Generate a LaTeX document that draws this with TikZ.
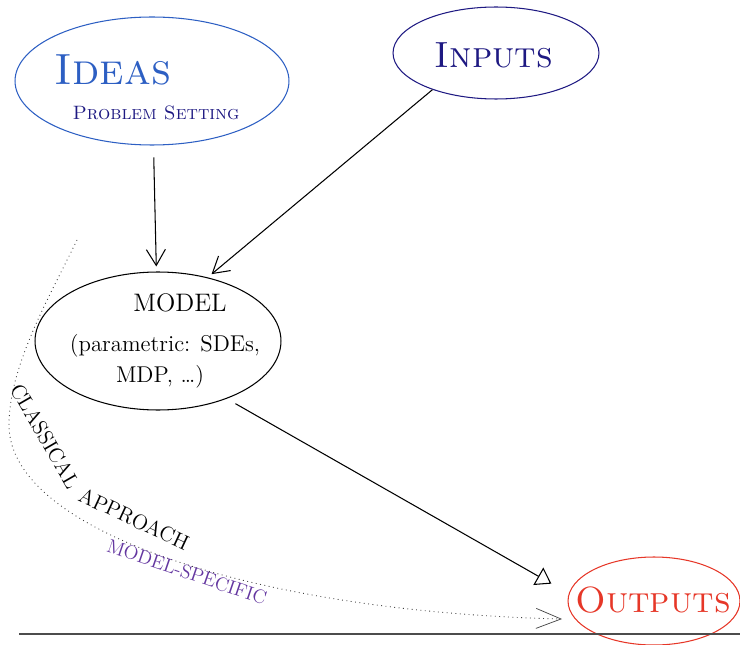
\documentclass[tikz,border=0pt]{standalone}
\usetikzlibrary{arrows.meta,shapes.geometric}
\definecolor{ideablue}{RGB}{45,95,195}
\definecolor{inknavy}{RGB}{30,25,130}
\definecolor{outred}{RGB}{230,55,40}
\definecolor{specpurple}{RGB}{100,55,160}
\tikzset{
  oval/.style={ellipse,draw,line width=0.6pt,inner sep=0pt},
  link/.style={line width=0.6pt,-{Straight Barb[length=3.2mm,width=3.8mm]}},
}

\begin{document}
\begin{tikzpicture}[x=0.02cm,y=-0.02cm]
        \useasboundingbox (0,0) rectangle (740,645);
        % bubbles
        \node[oval,draw=ideablue,minimum width=5.48cm,minimum height=2.56cm] (ideas) at (152,81) {};
        \node[oval,draw=inknavy,minimum width=4.12cm,minimum height=1.84cm] (inputs) at (496,53) {};
        \node[oval,minimum width=4.92cm,minimum height=2.76cm] (model) at (158,341) {};
        \node[oval,draw=outred,minimum width=3.44cm,minimum height=1.76cm] (outputs) at (654,601) {};
        \node[text=ideablue,font=\Huge] (ideastxt) at (113,70) {\textsc{Ideas}};
        \node[text=inknavy,font=\fontsize{11}{13}\selectfont] (setting) at (156,113) {\textsc{Problem Setting}};
        \node[text=inknavy,font=\huge] (inputstxt) at (494,55) {\textsc{Inputs}};
        \node[font=\Large] (modeltxt) at (180,303) {MODEL};
        \node[font=\fontsize{13}{15}\selectfont] (modelsub) at (165,346) {(parametric: SDEs,};
        \node[font=\fontsize{13}{15}\selectfont] (modelsub2) at (160,377) {MDP, \dots)};
        \node[text=outred,font=\huge] (outputstxt) at (653,600) {\textsc{Outputs}};
        % arrows
        \draw[link,shorten <=0.24cm,shorten >=0.1cm] (ideas) -- (model);
        \draw[link,shorten >=0.1cm] (inputs.-150) -- (model.52);
        \draw[line width=0.6pt,shorten <=0.2cm,shorten >=0.4cm,
          -{Triangle[open,length=3mm,width=4mm]}] (model.-40) -- (outputs.175);
        % classical route
        \coordinate (cstart) at (77,240);
        \coordinate (cend) at (562,619);
        \draw[dotted,black!75,line width=0.5pt,-{Straight Barb[length=5mm,width=4mm,line width=0.4pt]}]
          (cstart) .. controls (51,294) and (9,365) .. (9,425) .. controls (9,532) and (258,612) .. (cend);
        \node[rotate=-60,font=\large] (classical) at (45,436) {CLASSICAL};
        \node[rotate=-25,font=\large] (approach) at (134,519) {APPROACH};
        \node[rotate=-19,text=specpurple,font=\fontsize{11}{13}\selectfont] (specific) at (187,572) {MODEL-SPECIFIC};
        \draw[black!70,line width=0.8pt] (19,634) -- (740,634);
      \end{tikzpicture}
\end{document}
